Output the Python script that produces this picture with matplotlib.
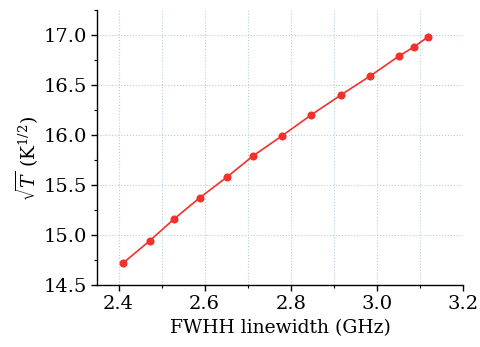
import matplotlib
matplotlib.use("Agg")
import matplotlib.pyplot as plt
from matplotlib.ticker import MultipleLocator, FormatStrFormatter

fwhh = [2.411, 2.472, 2.529, 2.588, 2.652, 2.712, 2.779, 2.847, 2.916, 2.984, 3.051, 3.085, 3.118]
sqrtT = [14.72, 14.94, 15.16, 15.37, 15.58, 15.79, 15.99, 16.20, 16.40, 16.59, 16.79, 16.88, 16.98]

plt.rcParams['font.family'] = ['DejaVu Serif']
plt.rcParams['mathtext.fontset'] = 'dejavuserif'

fig = plt.figure(figsize=(4.8, 3.47), dpi=100)
ax = fig.add_axes([0.202, 0.179, 0.763, 0.792])
ax.plot(fwhh, sqrtT, color='#f2312a', lw=1.2, marker='o', ms=4.8, zorder=3)
ax.set_xlim(2.35, 3.2)
ax.set_ylim(14.5, 17.25)
ax.xaxis.set_major_locator(MultipleLocator(0.2))
ax.xaxis.set_minor_locator(MultipleLocator(0.1))
ax.yaxis.set_major_locator(MultipleLocator(0.5))
ax.yaxis.set_minor_locator(MultipleLocator(0.25))
ax.xaxis.set_major_formatter(FormatStrFormatter('%.1f'))
ax.yaxis.set_major_formatter(FormatStrFormatter('%.1f'))
ax.xaxis.grid(True, which='both', ls=':', color='#b8ccd8', lw=0.8)
ax.yaxis.grid(True, which='major', ls=':', color='#b8ccd8', lw=0.8)
for s in ['top', 'right']:
    ax.spines[s].set_visible(False)
for s in ['left', 'bottom']:
    ax.spines[s].set_linewidth(1.0)
ax.tick_params(which='major', length=4, width=1.0, labelsize=14, direction='out')
ax.tick_params(which='minor', length=2.5, width=0.8, direction='out')
ax.set_xlabel('FWHH linewidth (GHz)', fontsize=13.5, labelpad=4)
ax.set_ylabel(r'$\sqrt{T}$ (K$^{1/2}$)', fontsize=13.5)
ax.yaxis.set_label_coords(-0.155, 0.46)
fig.savefig('out.png', dpi=100)
